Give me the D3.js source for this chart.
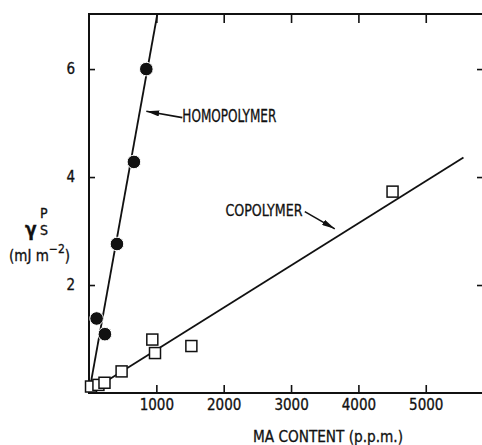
<!DOCTYPE html>
<html>
<head>
<meta charset="utf-8">
<script src="https://cdn.jsdelivr.net/npm/d3@7"></script>
<style>
  body { margin: 0; background: #fff; }
  svg { display: block; }
  text { font-family: "Liberation Sans Narrow", "DejaVu Sans Condensed", "Liberation Sans", sans-serif; fill: #111; stroke: #111; stroke-width: 0.3; }
</style>
</head>
<body>
<svg class="chart" width="482" height="445"></svg>
<script>
// values (MA content in p.p.m., gamma_s^p in mJ m^-2)
var homoX = [113, 236, 415, 667, 851];
var homoY = [1.38, 1.09, 2.76, 4.28, 6.0];
var copoX = [30, 140, 230, 484, 940, 980, 1520, 4507];
var copoY = [0.12, 0.15, 0.19, 0.40, 0.99, 0.74, 0.87, 3.73];
// drawn fit lines (end points)
var homoFit = [[0, 0], [1015, 7.02]];
var copoFit = [[0, 0.02], [5560, 4.36]];
var xTicks = [1000, 2000, 3000, 4000, 5000];
var yTicks = [2, 4, 6];

var margin = {top: 14, right: -1, bottom: 52, left: 89};
var width = 482 - margin.left - margin.right;
var height = 445 - margin.top - margin.bottom;

var x = d3.scaleLinear().domain([0, 5850]).range([0, width]);
var y = d3.scaleLinear().domain([0, 7.02]).range([height, 0]);

var chart = d3.select('.chart');
var main = chart.append('g')
    .attr('transform', 'translate(' + margin.left + ',' + margin.top + ')');

// frame
main.append('rect')
    .attr('width', width).attr('height', height)
    .attr('fill', 'none').attr('stroke', '#111').attr('stroke-width', 2);

// axes, ticks point inward
var fmt = d3.format('d');
var axBottom = main.append('g')
    .attr('transform', 'translate(0,' + height + ')')
    .call(d3.axisBottom(x).tickValues(xTicks).tickSize(-8).tickPadding(6).tickFormat(fmt));
var axTop = main.append('g')
    .call(d3.axisTop(x).tickValues(xTicks).tickSize(-9).tickFormat(''));
var axLeft = main.append('g')
    .call(d3.axisLeft(y).tickValues(yTicks).tickSize(-6).tickPadding(14).tickFormat(fmt));
var axRight = main.append('g')
    .attr('transform', 'translate(' + width + ',0)')
    .call(d3.axisRight(y).tickValues(yTicks).tickSize(-6).tickFormat(''));

[axBottom, axTop, axLeft, axRight].forEach(function(g) {
    g.select('.domain').remove();
    g.selectAll('line').attr('stroke', '#111').attr('stroke-width', 1.6);
    g.selectAll('text').style('font-size', '15px').attr('fill', '#111');
});

var line = d3.line()
    .x(function(d) { return x(d[0]); })
    .y(function(d) { return y(d[1]); });

main.append('path').datum(homoFit).attr('d', line)
    .attr('fill', 'none').attr('stroke', '#111').attr('stroke-width', 1.8);
main.append('path').datum(copoFit).attr('d', line)
    .attr('fill', 'none').attr('stroke', '#111').attr('stroke-width', 1.8);

// homopolymer: filled circles (thin white ring breaks the line like the print)
main.selectAll('.homo')
    .data(homoX.map(function(v, i) { return [v, homoY[i]]; }))
    .enter().append('circle')
    .attr('cx', function(d) { return x(d[0]); })
    .attr('cy', function(d) { return y(d[1]); })
    .attr('r', 6.8)
    .attr('fill', '#111')
    .attr('stroke', '#fff').attr('stroke-width', 1);

// copolymer: open squares
var sq = 11;
main.selectAll('.copo')
    .data(copoX.map(function(v, i) { return [v, copoY[i]]; }))
    .enter().append('rect')
    .attr('x', function(d) { return x(d[0]) - sq / 2; })
    .attr('y', function(d) { return y(d[1]) - sq / 2; })
    .attr('width', sq).attr('height', sq)
    .attr('fill', '#fff').attr('stroke', '#111').attr('stroke-width', 1.5);

// arrow head
chart.append('defs').append('marker')
    .attr('id', 'head').attr('viewBox', '0 0 13 6')
    .attr('refX', 13).attr('refY', 3)
    .attr('markerWidth', 13).attr('markerHeight', 6)
    .attr('markerUnits', 'userSpaceOnUse')
    .attr('orient', 'auto')
    .append('path').attr('d', 'M0,0L13,3L0,6Z').attr('fill', '#111');

// labels with arrows
main.append('line')
    .attr('x1', x(1386)).attr('y1', y(5.10))
    .attr('x2', x(851)).attr('y2', y(5.22))
    .attr('stroke', '#111').attr('stroke-width', 1.6)
    .attr('marker-end', 'url(#head)');
main.append('text')
    .attr('x', x(1386)).attr('y', y(5.02))
    .attr('textLength', 94).attr('lengthAdjust', 'spacingAndGlyphs')
    .style('font-size', '17px')
    .text('HOMOPOLYMER');

main.append('line')
    .attr('x1', x(3204)).attr('y1', y(3.36))
    .attr('x2', x(3649)).attr('y2', y(3.04))
    .attr('stroke', '#111').attr('stroke-width', 1.6)
    .attr('marker-end', 'url(#head)');
main.append('text')
    .attr('x', x(3169) - 77).attr('y', y(3.28))
    .attr('textLength', 77).attr('lengthAdjust', 'spacingAndGlyphs')
    .style('font-size', '16px')
    .text('COPOLYMER');

// x axis title
chart.append('text')
    .attr('x', 253).attr('y', 442)
    .attr('textLength', 150).attr('lengthAdjust', 'spacingAndGlyphs')
    .style('font-size', '16px')
    .text('MA CONTENT (p.p.m.)');

// y axis title: gamma with sup P and sub S
var yt = chart.append('g');
yt.append('text')
    .attr('x', 25).attr('y', 236)
    .style('font-size', '19px').style('font-weight', 'bold')
    .text('\u03b3');
yt.append('text')
    .attr('x', 40).attr('y', 218)
    .style('font-size', '14px')
    .text('P');
yt.append('text')
    .attr('x', 40).attr('y', 235)
    .style('font-size', '14px')
    .text('S');
var unit = yt.append('text')
    .attr('x', 9).attr('y', 261)
    .style('font-size', '15px');
unit.append('tspan').text('(mJ m');
unit.append('tspan').attr('dy', -8).style('font-size', '12px').text('\u22122');
unit.append('tspan').attr('dy', 8).text(')');
</script>
</body>
</html>
